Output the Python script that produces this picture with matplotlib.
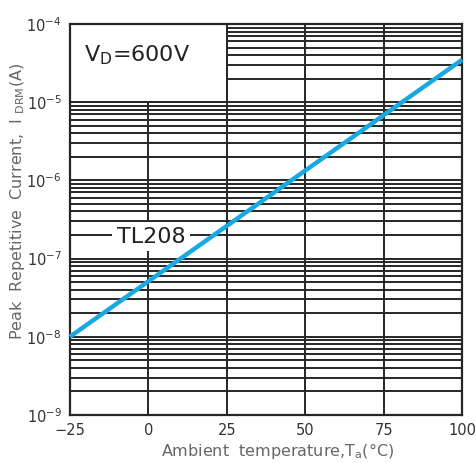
import matplotlib
matplotlib.use("Agg")
import matplotlib.pyplot as plt
from matplotlib.patches import Rectangle
from matplotlib.ticker import LogLocator, NullFormatter, FixedLocator

# TL208 peak repetitive current vs ambient temperature (VD = 600 V)
temp = [-25, 100]
idrm = [1.0e-8, 3.5e-5]

xticks = [-25, 0, 25, 50, 75, 100]
xticklabels = ["\u221225", "0", "25", "50", "75", "100"]
yticks = [1e-9, 1e-8, 1e-7, 1e-6, 1e-5, 1e-4]
yticklabels = [r"$10^{-9}$", r"$10^{-8}$", r"$10^{-7}$", r"$10^{-6}$", r"$10^{-5}$", r"$10^{-4}$"]

grid_c = "#262626"
blue = "#1aa8e2"

fig = plt.figure(figsize=(4.76, 4.63), dpi=100)
ax = fig.add_axes([0.147, 0.104, 0.824, 0.844])

ax.set_yscale("log")
ax.set_xlim(-25, 100)
ax.set_ylim(1e-9, 1e-4)

ax.xaxis.set_major_locator(FixedLocator(xticks))
ax.set_xticklabels(xticklabels)
ax.set_yticks(yticks)
ax.set_yticklabels(yticklabels)
ax.yaxis.set_minor_locator(LogLocator(base=10, subs=range(2, 10)))
ax.yaxis.set_minor_formatter(NullFormatter())
ax.tick_params(which="both", length=0, labelsize=10.5, colors="#333333", pad=6)

ax.grid(True, which="both", axis="y", color=grid_c, lw=1.4, zorder=1)
ax.grid(True, which="major", axis="x", color=grid_c, lw=1.4, zorder=1)
ax.set_axisbelow(True)
for s in ax.spines.values():
    s.set_color(grid_c)
    s.set_linewidth(1.6)

# white panel for the condition label
ax.add_patch(Rectangle((-25, 1e-5), 50, 9e-5, facecolor="white",
                       edgecolor=grid_c, lw=1.4, zorder=1.5))
ax.text(-20.5, 4.0e-5, r"V$_{\rm D}$=600V", fontsize=16, color="#222222",
        ha="left", va="center", zorder=3)

ax.plot(temp, idrm, color=blue, lw=3.2, solid_capstyle="butt", zorder=4, clip_on=False)

ax.text(0.8, 1.9e-7, "TL208", fontsize=16, color="#222222", ha="center", va="center",
        zorder=3, bbox=dict(boxstyle="square,pad=0.2", fc="white", ec="none"))

ax.set_xlabel(r"Ambient  temperature,T$_{\rm a}$(°C)", fontsize=11.5, color="#666666")
ax.set_ylabel(r"Peak  Repetitive  Current,  I $_{\rm DRM}$(A)", fontsize=11.5, color="#666666")
ax.xaxis.set_label_coords(0.53, -0.068)
ax.yaxis.set_label_coords(-0.11, 0.545)

fig.savefig("out.png", dpi=100)
